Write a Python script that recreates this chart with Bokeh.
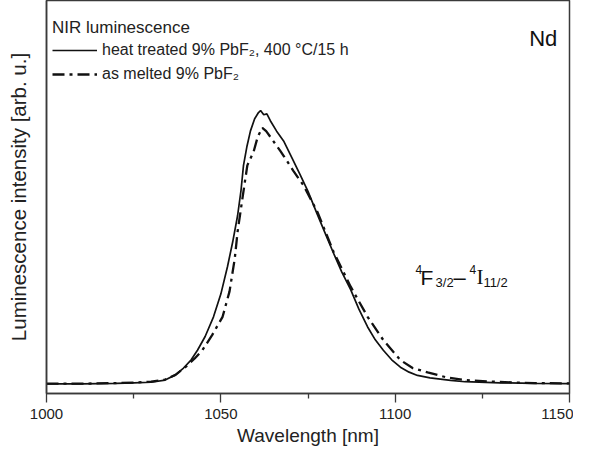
from bokeh.plotting import figure
from bokeh.models import Range1d, Legend, LegendItem, Label, FixedTicker
from bokeh.embed import file_html
from bokeh.resources import INLINE

# ---- data ----
wl_heat = [1000, 1010, 1020, 1025, 1030, 1034, 1037, 1039.3, 1041.5, 1043.3, 1045.5,
           1047.9, 1050, 1051.9, 1053.4, 1054.8, 1055.8, 1056.5, 1057.5, 1058.5, 1059.7,
           1060.8, 1061.4, 1062.3, 1063.2, 1064.2, 1066, 1068, 1070.5, 1072.8, 1075,
           1077.7, 1080, 1082.3, 1084.7, 1087.2, 1089.6, 1092.1, 1094.3, 1096.6, 1099,
           1101.5, 1104, 1106.4, 1110, 1115.9, 1120, 1130, 1140, 1150]
int_heat = [0.2, 0.2, 0.4, 0.6, 0.8, 1.6, 3.5, 6.0, 9.0, 12.5, 17.5,
            24.7, 33.0, 43.0, 52.0, 61.6, 71.0, 80.0, 87.0, 92.6, 97.0,
            99.3, 100.0, 98.5, 98.8, 96.3, 92.5, 88.9, 82.5, 76.4, 70.5,
            62.0, 55.0, 48.0, 41.0, 34.7, 27.5, 21.0, 16.3, 12.5, 9.0,
            6.3, 4.5, 3.3, 2.4, 1.5, 1.0, 0.6, 0.4, 0.3]

wl_melt = [1000, 1010, 1020, 1025, 1030, 1034, 1037, 1040, 1042.5, 1044.7, 1047.5,
           1050.5, 1052.5, 1054, 1054.8, 1056.2, 1057.6, 1059.4, 1060.6, 1061.9, 1063,
           1064.2, 1067.1, 1068, 1070.8, 1073.7, 1077.7, 1082.3, 1087.2, 1092.1, 1096.6,
           1101.5, 1105, 1109.3, 1115, 1120, 1130, 1140, 1150]
int_melt = [0.3, 0.3, 0.5, 0.7, 1.0, 1.8, 3.5, 6.5, 9.5, 12.5, 18.0,
            24.7, 34.0, 46.0, 55.7, 68.0, 80.0, 85.0, 90.5, 93.7, 92.5,
            90.4, 85.2, 83.5, 78.0, 72.7, 63.0, 48.5, 35.8, 24.7, 16.2,
            8.9, 6.0, 4.4, 2.5, 1.6, 0.9, 0.5, 0.4]

x_major = [1000, 1050, 1100, 1150]
x_minor = [1025, 1075, 1125]

SANS = "Liberation Sans"
SERIF = "Liberation Serif"
INK = "#111111"
FRAME = "#3a3a3a"
TXT = "#222222"

p = figure(width=573, height=452, output_backend="svg", toolbar_location=None,
           x_range=Range1d(1000, 1150), y_range=Range1d(-3.3, 140.2),
           min_border_left=46, min_border_right=4, min_border_top=0,
           min_border_bottom=59, background_fill_color="white",
           border_fill_color="white")

p.grid.visible = False
p.outline_line_color = FRAME
p.outline_line_width = 1.5

# x axis
p.xaxis.ticker = FixedTicker(ticks=x_major, minor_ticks=x_minor)
p.xaxis.axis_line_color = FRAME
p.xaxis.axis_line_width = 1.5
p.xaxis.major_tick_line_color = FRAME
p.xaxis.minor_tick_line_color = FRAME
p.xaxis.major_tick_line_width = 1.3
p.xaxis.minor_tick_line_width = 1.3
p.xaxis.major_tick_out = 9
p.xaxis.major_tick_in = 0
p.xaxis.minor_tick_out = 5
p.xaxis.minor_tick_in = 0
p.xaxis.major_label_text_font = SANS
p.xaxis.major_label_text_font_size = "15px"
p.xaxis.major_label_text_color = TXT
p.xaxis.major_label_standoff = 6
p.xaxis.axis_label = "Wavelength [nm]"
p.xaxis.axis_label_text_font = SANS
p.xaxis.axis_label_text_font_size = "19px"
p.xaxis.axis_label_text_font_style = "normal"
p.xaxis.axis_label_text_color = TXT
p.xaxis.axis_label_standoff = 3

# y axis (no ticks)
p.yaxis.ticker = FixedTicker(ticks=[])
p.yaxis.axis_line_color = FRAME
p.yaxis.axis_line_width = 1.5
p.yaxis.major_tick_line_color = None
p.yaxis.minor_tick_line_color = None
p.yaxis.major_label_text_font_size = "0px"
p.yaxis.axis_label = "Luminescence intensity [arb. u.]"
p.yaxis.axis_label_text_font = SANS
p.yaxis.axis_label_text_font_size = "20.5px"
p.yaxis.axis_label_text_font_style = "normal"
p.yaxis.axis_label_text_color = TXT
p.yaxis.axis_label_standoff = 17

r1 = p.line(wl_heat, int_heat, line_color=INK, line_width=1.7)
r2 = p.line(wl_melt, int_melt, line_color=INK, line_width=2.3, line_dash="12 5 3 5")

legend = Legend(items=[LegendItem(label="heat treated 9% PbF\u2082, 400 \u00b0C/15 h", renderers=[r1]),
                       LegendItem(label="as melted 9% PbF\u2082", renderers=[r2])],
                location=(6, 307), title="NIR luminescence")
legend.title_text_font = SANS
legend.title_text_font_size = "17px"
legend.title_text_font_style = "normal"
legend.title_text_color = TXT
legend.label_text_font = SANS
legend.label_text_font_size = "16px"
legend.label_text_color = TXT
legend.border_line_color = None
legend.background_fill_alpha = 0
legend.glyph_width = 45
legend.glyph_height = 24
legend.label_height = 24
legend.label_standoff = 5
legend.spacing = 0
legend.padding = 0
legend.margin = 0
legend.title_standoff = 0
p.add_layout(legend)

# "Nd"
p.add_layout(Label(x=1146.5, y=126.2, text="Nd", text_font=SANS, text_font_size="22px",
                   text_align="right", text_baseline="alphabetic", text_color=INK))

# transition label  4F3/2 - 4I11/2
pieces = [
    (1105.8, 42.1, "4", "12px", SANS),
    (1107.3, 39.1, "F", "21px", SANS),
    (1111.6, 37.3, "3/2", "13px", SANS),
    (1116.7, 39.1, "\u2013", "22px", SANS),
    (1121.3, 42.1, "4", "12px", SANS),
    (1123.3, 39.1, "I", "21px", SERIF),
    (1125.3, 37.3, "11/2", "13px", SANS),
]
for x, y, t, fs, fnt in pieces:
    p.add_layout(Label(x=x, y=y, text=t, text_font=fnt, text_font_size=fs,
                       text_align="left", text_baseline="alphabetic", text_color=INK))

open("out.html", "w").write(file_html(p, INLINE))
